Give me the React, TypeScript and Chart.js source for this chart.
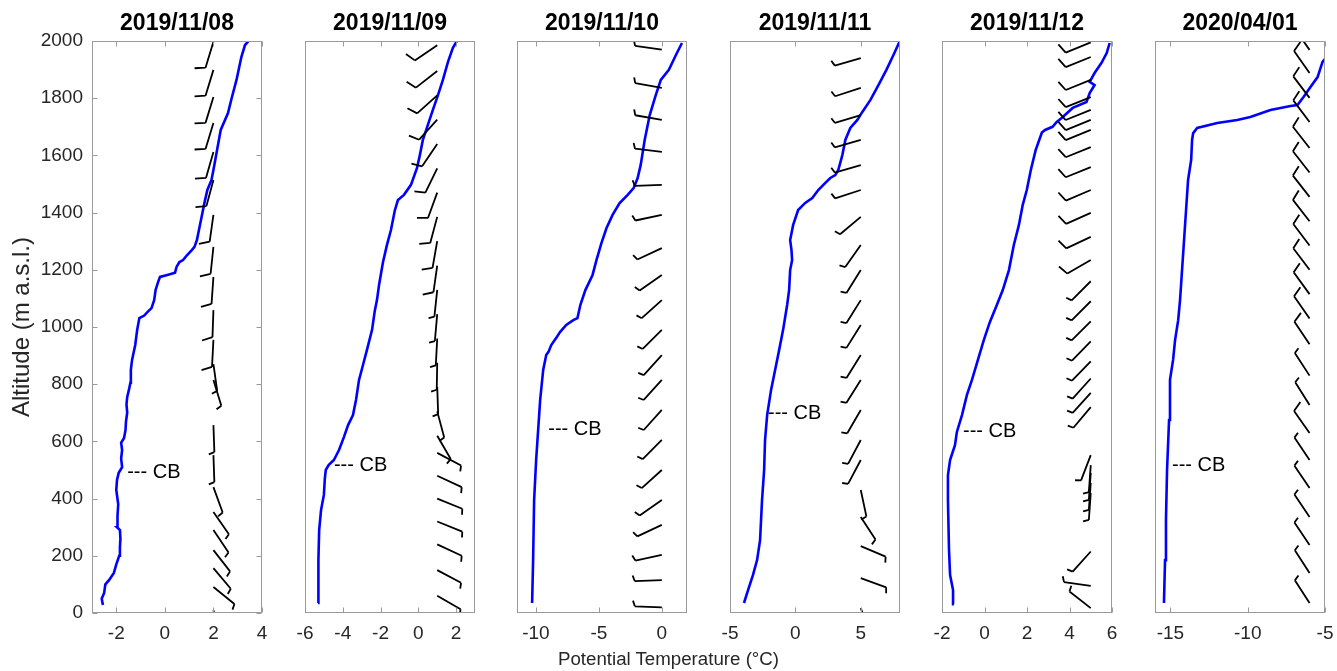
import React, { useEffect, useRef } from 'react';
import { Chart, registerables } from 'chart.js';
Chart.register(...registerables);

const FONT = "'Liberation Sans', Arial, Helvetica, sans-serif";

// ---------- data ----------
const titles = ['2019/11/08', '2019/11/09', '2019/11/10', '2019/11/11', '2019/11/12', '2020/04/01'];
const xMins = [-3, -6, -11.5, -5, -2, -16];
const xMaxs = [4, 3, 2, 8, 6, -5];
const xTickVals = [[-2, 0, 2, 4], [-6, -4, -2, 0, 2], [-10, -5, 0], [-5, 0, 5], [-2, 0, 2, 4, 6], [-15, -10, -5]];
const yTickVals = [0, 200, 400, 600, 800, 1000, 1200, 1400, 1600, 1800, 2000];

// potential temperature profiles (altitude m, theta °C)
const p1Alt = [28, 50, 70, 100, 115, 140, 170, 200, 230, 260, 290, 300, 340, 380, 430, 465, 490, 510, 540, 570, 595, 612, 640, 670, 700, 730, 755, 780, 805, 850, 885, 937, 990, 1031, 1040, 1052, 1066, 1094, 1130, 1157, 1175, 1182, 1190, 1210, 1227, 1234, 1250, 1268, 1280, 1304, 1346, 1400, 1434, 1479, 1514, 1549, 1619, 1689, 1748, 1800, 1864, 1944, 1986, 2000];
const p1Th = [-2.55, -2.6, -2.5, -2.45, -2.3, -2.1, -2.0, -1.88, -1.85, -1.83, -1.85, -1.97, -1.95, -1.92, -2.0, -1.97, -1.9, -1.76, -1.8, -1.76, -1.8, -1.68, -1.62, -1.6, -1.55, -1.58, -1.55, -1.48, -1.42, -1.4, -1.35, -1.22, -1.14, -1.05, -0.85, -0.72, -0.55, -0.44, -0.38, -0.28, -0.2, 0.1, 0.42, 0.48, 0.6, 0.75, 0.9, 1.1, 1.22, 1.32, 1.42, 1.55, 1.63, 1.75, 1.92, 2.0, 2.15, 2.3, 2.6, 2.75, 2.95, 3.15, 3.3, 3.45];

const p2Alt = [35, 100, 185, 290, 360, 413, 470, 500, 517, 535, 570, 615, 657, 692, 745, 815, 867, 920, 990, 1059, 1094, 1147, 1227, 1287, 1339, 1409, 1444, 1462, 1497, 1556, 1601, 1654, 1706, 1759, 1811, 1864, 1927, 1976, 2000];
const p2Th = [-5.31, -5.3, -5.28, -5.25, -5.15, -5.0, -4.95, -4.9, -4.75, -4.47, -4.2, -3.94, -3.72, -3.46, -3.3, -3.14, -2.93, -2.72, -2.45, -2.3, -2.19, -2.08, -1.87, -1.66, -1.45, -1.24, -1.08, -0.76, -0.39, -0.07, 0.08, 0.24, 0.5, 0.77, 1.04, 1.3, 1.57, 1.83, 2.04];

const p3Alt = [35, 185, 395, 535, 640, 745, 850, 902, 913, 937, 962, 983, 1007, 1024, 1031, 1077, 1129, 1182, 1234, 1294, 1346, 1392, 1433, 1462, 1486, 1521, 1566, 1654, 1741, 1811, 1864, 1899, 1951, 1993];
const p3Th = [-10.3, -10.22, -10.14, -9.98, -9.82, -9.66, -9.42, -9.18, -9.0, -8.78, -8.38, -8.07, -7.59, -7.03, -6.7, -6.47, -6.07, -5.5, -5.19, -4.79, -4.39, -3.91, -3.35, -2.71, -2.24, -1.92, -1.68, -1.36, -0.96, -0.48, -0.08, 0.56, 1.12, 1.6];

const p4Alt = [35, 80, 133, 185, 255, 395, 500, 605, 692, 780, 850, 920, 990, 1077, 1129, 1199, 1234, 1270, 1304, 1357, 1409, 1434, 1451, 1479, 1504, 1521, 1531, 1549, 1601, 1654, 1696, 1724, 1752, 1794, 1846, 1899, 1951, 1997];
const p4Th = [-3.93, -3.62, -3.24, -2.93, -2.7, -2.55, -2.39, -2.32, -2.16, -1.86, -1.55, -1.24, -0.94, -0.63, -0.48, -0.4, -0.25, -0.3, -0.4, -0.17, 0.21, 0.75, 1.29, 1.75, 2.29, 2.67, 3.05, 3.28, 3.59, 3.82, 4.2, 4.74, 5.12, 5.74, 6.35, 6.96, 7.5, 7.96];

const p5Alt = [31, 80, 133, 220, 395, 482, 535, 587, 633, 692, 762, 815, 885, 955, 1017, 1077, 1129, 1199, 1287, 1357, 1427, 1479, 1549, 1619, 1680, 1689, 1700, 1717, 1731, 1766, 1787, 1818, 1846, 1857, 1888, 1923, 1958, 1993];
const p5Th = [-1.44, -1.48, -1.62, -1.67, -1.72, -1.72, -1.62, -1.39, -1.3, -1.06, -0.83, -0.59, -0.31, -0.03, 0.25, 0.58, 0.86, 1.15, 1.38, 1.62, 1.8, 1.99, 2.18, 2.41, 2.7, 2.85, 3.2, 3.4, 3.63, 4.15, 4.8, 4.95, 5.18, 4.95, 5.18, 5.5, 5.75, 5.89];

const p6Alt = [35, 185, 325, 500, 675, 815, 885, 955, 1024, 1094, 1199, 1304, 1409, 1514, 1584, 1654, 1678, 1696, 1713, 1724, 1734, 1759, 1773, 1776, 1804, 1839, 1874, 1927, 1940];
const p6Th = [-15.42, -15.35, -15.29, -15.22, -15.09, -15.03, -14.83, -14.7, -14.5, -14.38, -14.25, -14.12, -13.99, -13.86, -13.66, -13.6, -13.53, -13.27, -11.97, -10.68, -9.83, -8.53, -7.23, -6.78, -6.39, -5.94, -5.48, -5.16, -4.96];

// cloud base labels
const cbTheta = [-1.55, -4.47, -9.02, -2.09, -1.01, -14.9];
const cbAlt = [490, 517, 640, 699, 633, 517];

// wind barbs: x position (°C axis), altitude, direction (deg from), speed (kt)
const barbX = [2, 1, 0, 5, 5, -6];
const b1Alt = [1997, 1899, 1804, 1713, 1612, 1514, 1392, 1280, 1175, 1059, 955, 870, 815, 657, 552, 440, 353, 290, 220, 157, 91, 10];
const b1Dir = [197, 197, 197, 197, 196, 195, 188, 186, 184, 182, 183, 172, 163, 178, 178, 160, 145, 146, 142, 140, 129, 168];
const b1Spd = [10, 10, 10, 10, 10, 10, 10, 10, 10, 10, 10, 5, 5, 5, 5, 5, 5, 5, 5, 5, 3, 3];

const b2Alt = [1985, 1895, 1810, 1725, 1640, 1555, 1470, 1385, 1300, 1215, 1130, 1045, 960, 875, 790, 705, 620, 560, 480, 400, 320, 240, 150, 60];
const b2Dir = [236, 232, 228, 222, 214, 206, 200, 195, 190, 188, 186, 185, 183, 181, 178, 165, 150, 118, 115, 112, 112, 115, 118, 120];
const b2Spd = [10, 10, 10, 10, 10, 10, 10, 10, 10, 10, 5, 5, 5, 5, 5, 5, 5, 5, 5, 5, 5, 5, 5, 5];

const b3Alt = [1970, 1836, 1724, 1612, 1497, 1392, 1276, 1182, 1094, 990, 902, 815, 710, 605, 500, 395, 308, 203, 115, 20];
const b3Dir = [278, 280, 280, 277, 268, 258, 245, 235, 228, 225, 222, 222, 222, 225, 228, 235, 245, 258, 268, 272];
const b3Spd = [5, 5, 5, 5, 5, 5, 5, 5, 5, 5, 5, 5, 5, 5, 5, 5, 5, 3, 3, 3];

const b4Alt = [1940, 1836, 1741, 1654, 1566, 1479, 1385, 1287, 1199, 1094, 1007, 902, 815, 710, 605, 535, 430, 336, 234, 122, 17];
const b4Dir = [254, 252, 253, 254, 254, 252, 230, 215, 212, 212, 212, 212, 212, 210, 208, 208, 168, 147, 113, 110, 160];
const b4Spd = [5, 5, 5, 5, 5, 5, 5, 5, 5, 5, 5, 5, 5, 5, 5, 3, 3, 3, 3, 3, 3];

const b5Alt = [1995, 1944, 1864, 1804, 1759, 1724, 1689, 1629, 1559, 1479, 1399, 1315, 1234, 1160, 1090, 1020, 950, 880, 820, 770, 720, 552, 517, 490, 455, 420, 215, 95, 17];
const b5Dir = [248, 248, 248, 248, 248, 248, 248, 248, 248, 247, 246, 245, 240, 225, 225, 225, 224, 224, 222, 222, 220, 201, 184, 184, 184, 184, 222, 278, 308];
const b5Spd = [10, 10, 10, 10, 10, 10, 10, 10, 10, 10, 10, 10, 10, 5, 5, 5, 5, 5, 5, 5, 5, 5, 5, 5, 5, 5, 3, 3, 3];

const b6Alt = [1969, 1888, 1801, 1717, 1626, 1540, 1455, 1370, 1285, 1200, 1115, 1030, 940, 830, 727, 629, 535, 437, 336, 238, 140, 35];
const b6Dir = [325, 325, 323, 323, 322, 322, 322, 322, 323, 323, 324, 325, 326, 327, 328, 325, 326, 326, 326, 326, 327, 327];
const b6Spd = [10, 10, 10, 10, 10, 10, 10, 10, 10, 10, 10, 10, 10, 5, 5, 10, 5, 5, 5, 5, 5, 5];

const profAlt = [p1Alt, p2Alt, p3Alt, p4Alt, p5Alt, p6Alt];
const profTh = [p1Th, p2Th, p3Th, p4Th, p5Th, p6Th];
const barbAlt = [b1Alt, b2Alt, b3Alt, b4Alt, b5Alt, b6Alt];
const barbDir = [b1Dir, b2Dir, b3Dir, b4Dir, b5Dir, b6Dir];
const barbSpd = [b1Spd, b2Spd, b3Spd, b4Spd, b5Spd, b6Spd];

// ---------- layout ----------
const W = 1337, H = 671;
const PLOT_LEFT = [92, 304.6, 517.2, 729.8, 942.4, 1155];
const PLOT_W = 170;
const PLOT_TOP = 41, PLOT_BOTTOM = 613;
const SIDE = 30;
const BOX = '#9a9a9a';
const TXT = '#262626';

function drawBarb(ctx: CanvasRenderingContext2D, x0: number, y0: number, dir: number, spd: number) {
  const L = 27, FULL = 11, HALF = 6, STEP = 4;
  const th = (dir * Math.PI) / 180;
  const ux = Math.sin(th), uy = -Math.cos(th);
  const a = (70 * Math.PI) / 180;
  const fx = ux * Math.cos(a) - uy * Math.sin(a);
  const fy = ux * Math.sin(a) + uy * Math.cos(a);
  ctx.beginPath();
  ctx.moveTo(x0, y0);
  ctx.lineTo(x0 + ux * L, y0 + uy * L);
  let s = Math.round(spd / 5) * 5;
  let pos = L;
  while (s >= 10) {
    const px = x0 + ux * pos, py = y0 + uy * pos;
    ctx.moveTo(px, py);
    ctx.lineTo(px + fx * FULL, py + fy * FULL);
    pos -= STEP;
    s -= 10;
  }
  if (s >= 5) {
    const px = x0 + ux * pos, py = y0 + uy * pos;
    ctx.moveTo(px, py);
    ctx.lineTo(px + fx * HALF, py + fy * HALF);
  }
  ctx.stroke();
}

function makePlugin(i: number) {
  return {
    id: 'panelDeco' + i,
    afterDatasetsDraw(chart: any) {
      const { ctx, chartArea: ca, scales } = chart;
      const xs = scales.x, ys = scales.y;
      ctx.save();
      ctx.beginPath();
      ctx.rect(ca.left, ca.top, ca.right - ca.left, ca.bottom - ca.top);
      ctx.clip();
      ctx.strokeStyle = '#000';
      ctx.lineWidth = 1.8;
      ctx.lineCap = 'butt';
      const bx = xs.getPixelForValue(barbX[i]);
      barbAlt[i].forEach((z, k) => {
        drawBarb(ctx, bx, ys.getPixelForValue(z), barbDir[i][k], barbSpd[i][k]);
      });
      ctx.restore();

      ctx.save();
      ctx.fillStyle = '#000';
      ctx.font = `20px ${FONT}`;
      ctx.textAlign = 'left';
      ctx.textBaseline = 'middle';
      ctx.fillText('--- CB', xs.getPixelForValue(cbTheta[i]), ys.getPixelForValue(cbAlt[i]));
      ctx.restore();
    },
    afterDraw(chart: any) {
      const { ctx, chartArea: ca, scales } = chart;
      const xs = scales.x, ys = scales.y;
      ctx.save();
      ctx.strokeStyle = BOX;
      ctx.lineWidth = 1;
      const l = Math.round(ca.left) + 0.5, r = Math.round(ca.right) - 0.5;
      const t = Math.round(ca.top) + 0.5, b = Math.round(ca.bottom) - 0.5;
      ctx.strokeRect(l, t, r - l, b - t);
      ctx.beginPath();
      const TL = 5;
      xTickVals[i].forEach((v) => {
        const px = Math.round(xs.getPixelForValue(v)) + 0.5;
        ctx.moveTo(px, b); ctx.lineTo(px, b - TL);
        ctx.moveTo(px, t); ctx.lineTo(px, t + TL);
      });
      if (i === 0) {
        yTickVals.forEach((v) => {
          const py = Math.round(ys.getPixelForValue(v)) + 0.5;
          ctx.moveTo(l, py); ctx.lineTo(l + TL, py);
          ctx.moveTo(r, py); ctx.lineTo(r - TL, py);
        });
      }
      ctx.stroke();
      ctx.fillStyle = '#000';
      ctx.font = `bold 23px ${FONT}`;
      ctx.textAlign = 'center';
      ctx.textBaseline = 'middle';
      ctx.fillText(titles[i], (ca.left + ca.right) / 2, 24);
      ctx.restore();
    },
  };
}

function makeConfig(i: number): any {
  const pts = profAlt[i].map((z, k) => ({ x: profTh[i][k], y: z }));
  return {
    type: 'scatter',
    data: {
      datasets: [
        {
          data: pts,
          showLine: true,
          borderColor: '#0000ff',
          backgroundColor: '#0000ff',
          borderWidth: 2.6,
          pointRadius: 0,
          tension: 0,
        },
      ],
    },
    options: {
      animation: false,
      responsive: false,
      events: [],
      layout: { padding: { left: i === 0 ? 0 : SIDE, right: SIDE, top: PLOT_TOP, bottom: 0 } },
      plugins: { legend: { display: false }, tooltip: { enabled: false }, title: { display: false } },
      scales: {
        x: {
          type: 'linear',
          min: xMins[i],
          max: xMaxs[i],
          grid: { display: false, drawTicks: false },
          border: { display: false },
          ticks: {
            color: TXT,
            font: { family: FONT, size: 19 },
            padding: 9,
            maxRotation: 0,
            autoSkip: false,
            callback: (v: number) => String(v),
          },
          afterBuildTicks: (s: any) => {
            s.ticks = xTickVals[i].map((v) => ({ value: v }));
          },
          afterFit: (s: any) => {
            s.height = H - PLOT_BOTTOM;
          },
        },
        y: {
          type: 'linear',
          min: 0,
          max: 2000,
          display: i === 0,
          grid: { display: false, drawTicks: false },
          border: { display: false },
          ticks: {
            color: TXT,
            font: { family: FONT, size: 19 },
            padding: 9,
            autoSkip: false,
            callback: (v: number) => String(v),
          },
          title: {
            display: i === 0,
            text: 'Altitude (m a.s.l.)',
            color: TXT,
            font: { family: FONT, size: 24 },
            padding: { top: 8, bottom: 0 },
          },
          afterBuildTicks: (s: any) => {
            s.ticks = yTickVals.map((v) => ({ value: v }));
          },
          afterFit: (s: any) => {
            s.width = i === 0 ? PLOT_LEFT[0] : 0;
          },
        },
      },
    },
    plugins: [makePlugin(i)],
  };
}

export default function App() {
  const refs = useRef<(HTMLCanvasElement | null)[]>([]);
  useEffect(() => {
    const charts = titles.map((_, i) => new Chart(refs.current[i] as HTMLCanvasElement, makeConfig(i)));
    return () => charts.forEach((c) => c.destroy());
  }, []);
  return (
    <div style={{ position: 'absolute', left: 0, top: 0, width: W, height: H, background: '#fff', overflow: 'hidden' }}>
      {titles.map((_, i) => {
        const left = i === 0 ? 0 : PLOT_LEFT[i] - SIDE;
        const width = i === 0 ? PLOT_LEFT[0] + PLOT_W + SIDE : PLOT_W + 2 * SIDE;
        return (
          <canvas
            key={i}
            ref={(el) => {
              refs.current[i] = el;
            }}
            width={width}
            height={H}
            style={{ position: 'absolute', left, top: 0, width, height: H }}
          />
        );
      })}
      <div
        style={{
          position: 'absolute',
          left: 0,
          top: 647,
          width: 1337,
          textAlign: 'center',
          fontFamily: FONT,
          fontSize: 18.7,
          lineHeight: '24px',
          color: TXT,
        }}
      >
        <span style={{ position: 'relative', left: 0 }}>Potential Temperature (°C)</span>
      </div>
    </div>
  );
}
